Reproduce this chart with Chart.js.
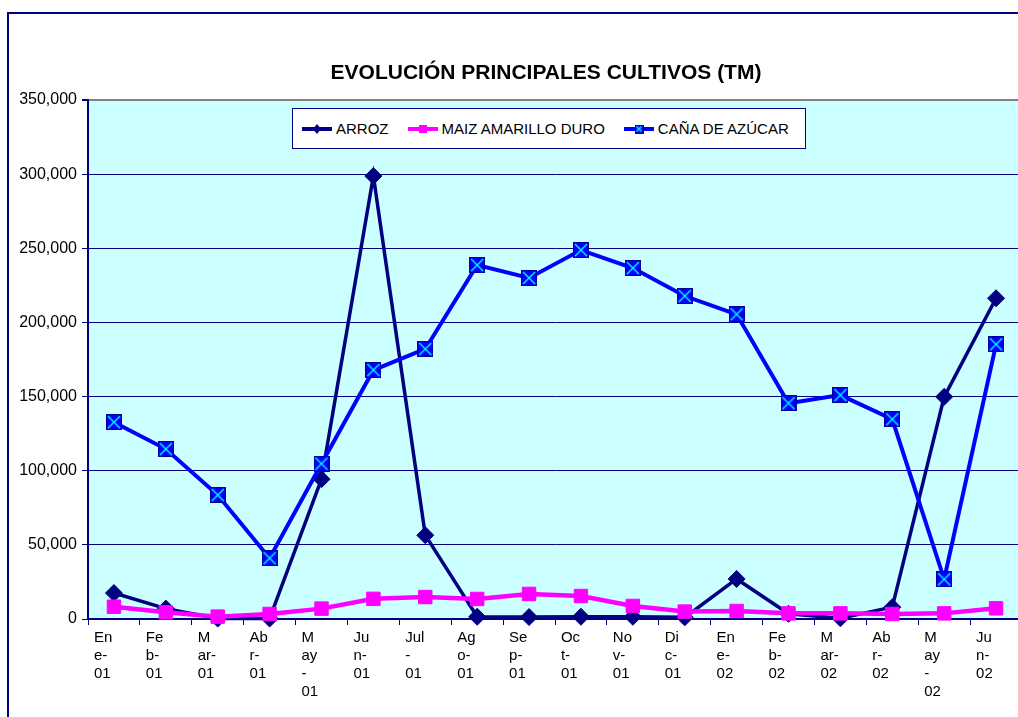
<!DOCTYPE html>
<html>
<head>
<meta charset="utf-8">
<script src="https://cdn.jsdelivr.net/npm/chart.js@4.4.1/dist/chart.umd.min.js"></script>
<style>
  html, body { margin: 0; padding: 0; overflow: hidden; background: #fff; width: 1018px; height: 717px; }
  #marco { position: absolute; left: 7px; top: 12px; width: 1200px; height: 800px;
           border-top: 2px solid #000080; border-left: 2px solid #000080; }
  #lienzo { position: absolute; left: 0; top: 0; width: 1100px; height: 717px; }
  #titulo { position: absolute; left: 246px; width: 600px; top: 60px; line-height: 26px; text-align: center;
            font: bold 21px 'Liberation Sans', Arial, sans-serif; color: #000; white-space: nowrap; }
  #leyenda { position: absolute; left: 292px; top: 108px; width: 514px; height: 41px; box-sizing: border-box;
             border: 1px solid #000080; background: #fff; display: flex; align-items: center; padding-left: 9px;
             font: 15px 'Liberation Sans', Arial, sans-serif; color: #000; white-space: nowrap; }
  .item { display: flex; align-items: center; margin-right: 19px; flex-shrink: 0; }
  .item canvas { margin-right: 4px; }
</style>
</head>
<body>
<div id="marco"></div>
<div id="lienzo"><canvas id="grafico"></canvas></div>
<div id="titulo">EVOLUCIÓN PRINCIPALES CULTIVOS (TM)</div>
<div id="leyenda"></div>

<script>
// Datos (TM)
const meses = [
    ['En', 'e-', '01'], ['Fe', 'b-', '01'], ['M', 'ar-', '01'], ['Ab', 'r-', '01'], ['M', 'ay', '-', '01'],
    ['Ju', 'n-', '01'], ['Jul', '-', '01'], ['Ag', 'o-', '01'], ['Se', 'p-', '01'], ['Oc', 't-', '01'],
    ['No', 'v-', '01'], ['Di', 'c-', '01'], ['En', 'e-', '02'], ['Fe', 'b-', '02'], ['M', 'ar-', '02'],
    ['Ab', 'r-', '02'], ['M', 'ay', '-', '02'], ['Ju', 'n-', '02']
];
const arroz = [17500, 7000, 300, 300, 94300, 298700, 56500, 1500, 1300, 1500, 1500, 1100,
               27000, 3500, 500, 8000, 149800, 216300];
const maiz = [8300, 4500, 1600, 3400, 7000, 13600, 14800, 13500, 16900, 15500, 8800, 5000,
              5400, 3800, 3800, 3400, 3800, 7200];
const cana = [132700, 114600, 83600, 41000, 104700, 167900, 182100, 238700, 230000, 248800, 236700, 217800,
              205500, 145500, 151000, 134700, 26800, 185200];
const nombres = ['ARROZ', 'MAIZ AMARILLO DURO', 'CAÑA DE AZÚCAR'];
const yMax = 350000;
const yPaso = 50000;

const FUENTE = "'Liberation Sans', Arial, sans-serif";
const NAVY = '#000080';

// marcador de la caña: cuadrado azul con aspa celeste
function marcaCana(lado) {
    const c = document.createElement('canvas');
    c.width = lado; c.height = lado;
    const g = c.getContext('2d');
    g.fillStyle = '#0000FF';
    g.fillRect(0, 0, lado, lado);
    g.strokeStyle = '#0000A0';
    g.lineWidth = 1;
    g.strokeRect(0.5, 0.5, lado - 1, lado - 1);
    g.strokeStyle = '#00FFFF';
    g.lineWidth = 1.4;
    g.beginPath();
    g.moveTo(2, 2); g.lineTo(lado - 2, lado - 2);
    g.moveTo(lado - 2, 2); g.lineTo(2, lado - 2);
    g.stroke();
    return c;
}

const estilos = [
    { color: NAVY, ancho: 3.5, punto: 'rectRot', radio: 8.5 },
    { color: '#FF00FF', ancho: 4.5, punto: 'rect', radio: 9.5 },
    { color: '#0000FF', ancho: 4, punto: marcaCana(16), radio: 8 }
];
const series = [arroz, maiz, cana];

// fondo del area de trazado
const fondoPlot = {
    id: 'fondoPlot',
    beforeDraw(chart) {
        const { ctx, chartArea: a } = chart;
        ctx.save();
        ctx.fillStyle = '#CCFFFF';
        ctx.fillRect(a.left, a.top, a.right - a.left, a.bottom - a.top);
        ctx.restore();
    }
};

new Chart(document.getElementById('grafico'), {
    type: 'line',
    data: {
        labels: meses,
        datasets: series.map((datos, i) => ({
            label: nombres[i],
            data: datos,
            borderColor: estilos[i].color,
            backgroundColor: estilos[i].color,
            borderWidth: estilos[i].ancho,
            pointStyle: estilos[i].punto,
            pointRadius: estilos[i].radio,
            pointBorderWidth: 1,
            pointBorderColor: estilos[i].color,
            pointBackgroundColor: estilos[i].color,
            tension: 0,
            clip: false,
            order: 3 - i
        }))
    },
    options: {
        responsive: true,
        maintainAspectRatio: false,
        animation: false,
        layout: { padding: { left: 0, right: 78, top: 100, bottom: 0 } },
        plugins: { legend: { display: false }, title: { display: false }, tooltip: { enabled: false } },
        scales: {
            x: {
                offset: true,
                afterFit: s => { s.height = 98; },
                border: { color: NAVY, width: 2 },
                grid: { offset: true, drawOnChartArea: false, drawTicks: true, tickLength: 6, tickColor: NAVY, color: NAVY },
                ticks: {
                    align: 'start', labelOffset: -20, padding: 4, maxRotation: 0, autoSkip: false,
                    color: '#000', font: { family: FUENTE, size: 15, lineHeight: 1.2 }
                }
            },
            y: {
                min: 0, max: yMax,
                afterFit: s => { s.width = 88; },
                border: { color: NAVY, width: 2 },
                grid: {
                    color: c => (c.tick && c.tick.value === yMax) ? '#808080' : NAVY,
                    lineWidth: c => (c.tick && c.tick.value === yMax) ? 2 : 1,
                    tickLength: 6, tickColor: NAVY
                },
                ticks: {
                    stepSize: yPaso, padding: 5, color: '#000',
                    font: { family: FUENTE, size: 16 },
                    callback: v => v.toLocaleString('en-US')
                }
            }
        }
    },
    plugins: [fondoPlot]
});

// leyenda en HTML
const leyenda = document.getElementById('leyenda');
nombres.forEach((nombre, i) => {
    const item = document.createElement('div');
    item.className = 'item';
    const ic = document.createElement('canvas');
    ic.width = 30; ic.height = 14;
    const g = ic.getContext('2d');
    const e = estilos[i];
    g.strokeStyle = e.color;
    g.lineWidth = 4;
    g.beginPath(); g.moveTo(0, 7); g.lineTo(30, 7); g.stroke();
    g.fillStyle = e.color;
    if (i === 0) {
        g.beginPath(); g.moveTo(15, 2); g.lineTo(19, 7); g.lineTo(15, 12); g.lineTo(11, 7); g.closePath(); g.fill();
    } else if (i === 1) {
        g.fillRect(11, 3, 8, 8);
    } else {
        g.drawImage(marcaCana(9), 10.5, 2.5);
    }
    const t = document.createElement('span');
    t.textContent = nombre;
    item.appendChild(ic);
    item.appendChild(t);
    leyenda.appendChild(item);
});
</script>
</body>
</html>
